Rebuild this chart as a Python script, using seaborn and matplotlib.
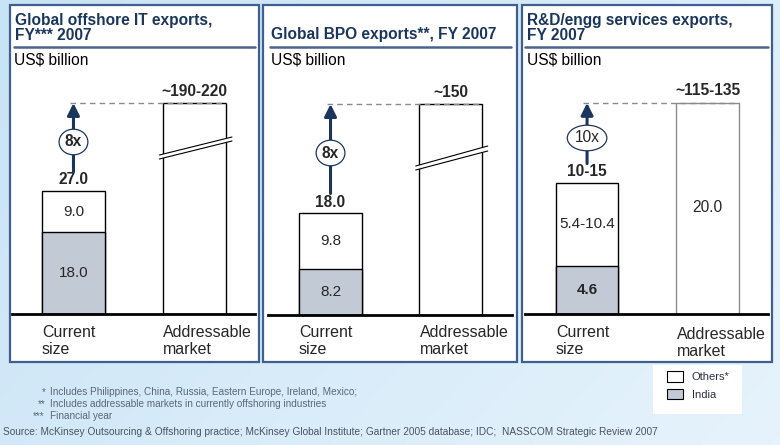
import numpy as np
import pandas as pd
import matplotlib
matplotlib.use("Agg")
import matplotlib.pyplot as plt
import seaborn as sns
from matplotlib.patches import Rectangle, Patch, Polygon
from matplotlib.colors import LinearSegmentedColormap
from matplotlib.ticker import NullLocator

# ---------------- data ----------------
categories = ["Current size", "Addressable market"]
cat_labels = ["Current\nsize", "Addressable\nmarket"]
panel_titles = ["Global offshore IT exports,\nFY*** 2007",
                "Global BPO exports**, FY 2007",
                "R&D/engg services exports,\nFY 2007"]
unit_label = "US$ billion"

india = [18.0, 8.2, 4.6]
others = [9.0, 9.8, 7.9]                 # R&D "others" is a range 5.4-10.4
india_labels = ["18.0", "8.2", "4.6"]
others_labels = ["9.0", "9.8", "5.4-10.4"]
current_totals = [27.0, 18.0, 12.5]      # R&D total is a range 10-15
current_total_labels = ["27.0", "18.0", "10-15"]
addressable = [205.0, 150.0, 125.0]
addressable_labels = ["~190-220", "~150", "~115-135"]
addr_inner_labels = ["", "", "20.0"]
multipliers = ["8x", "8x", "10x"]

legend_labels = ["Others*", "India"]
footnotes = ["*", "**", "***"]
footnote_texts = ["Includes Philippines, China, Russia, Eastern Europe, Ireland, Mexico;",
                  "Includes addressable markets in currently offshoring industries",
                  "Financial year"]
source_text = ("Source: McKinsey Outsourcing & Offshoring practice; McKinsey Global Institute; "
               "Gartner 2005 database; IDC;  NASSCOM Strategic Review 2007")

# ---------------- style / layout ----------------
W, H = 780, 445
NAVY = "#1b365d"
BORDER = "#3f5f8f"
INDIA_C = "#c2cad5"
MAIN = ["Liberation Sans", "DejaVu Sans"]

sns.set_style("white")
plt.rcParams["font.family"] = MAIN

fig = plt.figure(figsize=(W / 100, H / 100), dpi=100)

# background gradient
bg = fig.add_axes([0, 0, 1, 1], zorder=-10)
gx, gy = np.meshgrid(np.linspace(0, 1, 200), np.linspace(0, 1, 120))
grad = 0.65 * gx + 0.35 * gy
cmap = LinearSegmentedColormap.from_list("bg", ["#c8e3f6", "#e6f3fc"])
bg.imshow(grad, cmap=cmap, aspect="auto", extent=[0, 1, 0, 1], origin="upper")
bg.set_axis_off()


def T(x, y, s, **kw):
    return fig.text(x / W, 1 - y / H, s, **kw)


panels = [
    dict(box=(10, 5, 259, 362), tx=15, ty=[20, 35], sep=(14, 255), ux=14,
         ax=(12, 255), base=314, k=123 / 27.0, b=30.0, c=0.4246,
         brk=((159, 177), (155, 173)), xl=-0.508, spc=121.0,
         lab_x=[42, 163], lab_y=[341, 341]),
    dict(box=(263, 5, 517, 362), tx=271, ty=[35], sep=(270, 511), ux=271,
         ax=(268, 512), base=315, k=102 / 18.0, b=25.0, c=0.554,
         brk=((149, 169), (145, 164)), xl=-0.521, spc=120.0,
         lab_x=[299, 420], lab_y=[341, 341]),
    dict(box=(522, 5, 772, 362), tx=527, ty=[20, 35], sep=(525, 768), ux=527,
         ax=(525, 768), base=314, k=131 / 12.5, b=15.0, c=0.49,
         brk=None, xl=-0.515, spc=120.5,
         lab_x=[556, 677], lab_y=[341, 343]),
]

for i, p in enumerate(panels):
    x0, y0, x1, y1 = p["box"]
    fig.patches.append(Rectangle((x0 / W, 1 - y1 / H), (x1 - x0) / W, (y1 - y0) / H,
                                 transform=fig.transFigure, facecolor="white",
                                 edgecolor=BORDER, lw=1.6, zorder=-5))
    # title
    lines = panel_titles[i].split("\n")
    for ln, ty in zip(lines, p["ty"]):
        T(p["tx"], ty, ln, fontsize=11.2, fontweight="bold", color=NAVY,
          ha="left", va="center")
    fig.add_artist(plt.Line2D([p["sep"][0] / W, p["sep"][1] / W], [1 - 47 / H, 1 - 47 / H],
                              transform=fig.transFigure, color="#4a6390", lw=1.8))
    T(p["ux"], 60, unit_label, fontsize=11.2, color="black", ha="left", va="center")

    # axes in pixel-like units (broken scale above the break value)
    ax_l, ax_r = p["ax"]
    base = p["base"]
    top_px = 60
    hp = base - top_px
    ax = fig.add_axes([ax_l / W, (H - base) / H, (ax_r - ax_l) / W, hp / H])
    ax.set_facecolor("none")
    k, b, c = p["k"], p["b"], p["c"]

    def fwd(v, k=k, b=b, c=c):
        v = np.asarray(v, dtype=float)
        return np.where(v <= b, k * v, k * b + (v - b) * c)

    def inv(q, k=k, b=b, c=c):
        q = np.asarray(q, dtype=float)
        return np.where(q <= k * b, q / k, b + (q - k * b) / c)

    df_tot = pd.DataFrame({"cat": categories, "val": [current_totals[i], addressable[i]]})
    df_ind = pd.DataFrame({"cat": categories, "val": [india[i], 0.0]})
    sns.barplot(data=df_tot, x="cat", y="val", order=categories, ax=ax, color="white",
                saturation=1, edgecolor="black", linewidth=1.0, width=0.52, errorbar=None)
    sns.barplot(data=df_ind, x="cat", y="val", order=categories, ax=ax, color=INDIA_C,
                saturation=1, edgecolor="black", linewidth=1.0, width=0.52, errorbar=None)
    ax.patches[3].set_visible(False)
    if i == 2:
        ax.patches[1].set_edgecolor("#8c8c8c")

    ax.set_yscale("function", functions=(fwd, inv))
    ax.set_ylim(0, float(inv(hp)))
    ax.set_xlim(p["xl"], p["xl"] + (ax_r - ax_l) / p["spc"])
    ax.yaxis.set_minor_locator(NullLocator())
    ax.set_xticks([])
    ax.set_yticks([])
    ax.set_xlabel("")
    ax.set_ylabel("")
    for s in ["left", "top", "right"]:
        ax.spines[s].set_visible(False)
    ax.spines["bottom"].set_linewidth(2.0)
    ax.spines["bottom"].set_color("black")

    # segment labels
    ax.text(0, float(inv((fwd(india[i]) + 0) / 2)), india_labels[i], ha="center", va="center",
            fontsize=11, fontweight="bold" if i == 2 else "normal")
    ax.text(0, float(inv((fwd(india[i]) + fwd(current_totals[i])) / 2)), others_labels[i],
            ha="center", va="center", fontsize=11)
    ax.annotate(current_total_labels[i], xy=(0, current_totals[i]), xytext=(0, 11),
                textcoords="offset pixels", ha="center", va="center",
                fontsize=11.2, fontweight="bold")
    ax.annotate(addressable_labels[i], xy=(1, addressable[i]), xytext=(0, 12),
                textcoords="offset pixels", ha="center", va="center",
                fontsize=11.2, fontweight="bold")
    if addr_inner_labels[i]:
        ax.annotate(addr_inner_labels[i], xy=(1, addressable[i]), xytext=(0, -105),
                    textcoords="offset pixels", ha="center", va="center", fontsize=11.2)

    # dashed reference line
    ax.plot([-0.03, 1.26], [addressable[i], addressable[i]], color="#8a8a8a",
            lw=1.0, ls=(0, (4, 3)))
    # arrow
    ax.annotate("", xy=(0, addressable[i]), xytext=(0, current_totals[i]),
                arrowprops=dict(arrowstyle="-|>,head_length=0.72,head_width=0.36",
                                color=NAVY, lw=2.2, shrinkA=14, shrinkB=0,
                                mutation_scale=10))
    mult_off = [49, 60, 45][i]
    ax.annotate(multipliers[i], xy=(0, current_totals[i]), xytext=(0, mult_off),
                textcoords="offset pixels", ha="center", va="center",
                fontsize=11.2, fontweight="bold" if i < 2 else "normal",
                bbox=dict(boxstyle="ellipse,pad=0.1", fc="white", ec=NAVY, lw=0.9))

    # axis break marks
    if p["brk"] is not None:
        (u0, u1), (l0, l1) = p["brk"]
        xa, xb = 1 - 0.26 - 0.03, 1 + 0.26 + 0.05
        poly = Polygon([[xa, float(inv(u0))], [xb, float(inv(u1))],
                        [xb, float(inv(l1))], [xa, float(inv(l0))]],
                       closed=True, facecolor="white", edgecolor="none", zorder=5)
        ax.add_patch(poly)
        ax.plot([xa, xb], [float(inv(u0)), float(inv(u1))], color="black", lw=0.8, zorder=6)
        ax.plot([xa, xb], [float(inv(l0)), float(inv(l1))], color="black", lw=0.8, zorder=6)

    # category labels
    for j in range(2):
        T(p["lab_x"][j], p["lab_y"][j], cat_labels[j], fontsize=11.5, ha="left",
          va="center", linespacing=1.2)

# footnotes
fn_y = [392, 404, 416]
fn_x = [42, 38, 33]
for s, t, x, y in zip(footnotes, footnote_texts, fn_x, fn_y):
    T(x, y, s, fontsize=7.2, color="#5a6878", ha="left", va="center")
    T(50, y, t, fontsize=7.2, color="#5a6878", ha="left", va="center")
T(3, 432, source_text, fontsize=7.3, color="#4a5561", ha="left", va="center")

# legend (white box + legend entries)
fig.patches.append(Rectangle((653 / W, 1 - 414 / H), 89 / W, 49 / H,
                             transform=fig.transFigure, facecolor="white",
                             edgecolor="none", zorder=1))
handles = [Patch(facecolor="white", edgecolor="black", lw=0.8),
           Patch(facecolor=INDIA_C, edgecolor="black", lw=0.8)]
leg = fig.legend(handles, legend_labels, loc="upper left",
                 bbox_to_anchor=(667 / W, 1 - 371 / H), frameon=False,
                 prop=dict(size=8), handlelength=1.44, handleheight=1.08,
                 borderpad=0, labelspacing=0.6, handletextpad=0.8, borderaxespad=0)
for t in leg.get_texts():
    t.set_color("#2b2f45")

fig.savefig("out.png", dpi=100)
